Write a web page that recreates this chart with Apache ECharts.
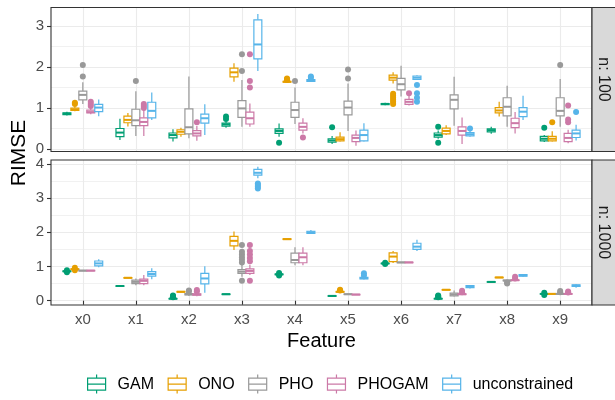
<!DOCTYPE html>
<html>
<head>
<meta charset="utf-8">
<script src="https://cdn.jsdelivr.net/npm/echarts@6/dist/echarts.min.js"></script>
<style>html,body{margin:0;padding:0;background:#fff}#c{width:615px;height:400px}</style>
</head>
<body>
<div id="c"></div>
<script>
// ---------- data ----------
const features = ['x0','x1','x2','x3','x4','x5','x6','x7','x8','x9'];
const methods = ['GAM','ONO','PHO','PHOGAM','unconstrained'];
const panelLabels = ['n: 100','n: 1000'];
const yTicks100 = [0,1,2,3];
const yTicks1000 = [0,1,2,3,4];

// box stats per feature: [lower whisker, q1, median, q3, upper whisker]
const gam100 = [[0.82,0.84,0.86,0.88,0.91],[0.22,0.30,0.40,0.50,0.74],[0.18,0.27,0.34,0.39,0.48],[0.52,0.56,0.60,0.63,0.67],[0.30,0.38,0.44,0.49,0.62],[0.12,0.17,0.21,0.25,0.32],[1.07,1.08,1.10,1.11,1.13],[0.25,0.29,0.34,0.39,0.45],[0.37,0.42,0.46,0.49,0.54],[0.17,0.20,0.25,0.31,0.34]];
const gam100Out = [[],[],[],[0.73,0.79],[0.15],[0.53],[],[0.54,0.15],[],[0.52]];
const ono100 = [[0.92,0.94,0.97,1.00,1.04],[0.55,0.64,0.71,0.80,0.88],[0.30,0.36,0.42,0.47,0.52],[1.64,1.76,1.87,1.97,2.09],[1.62,1.63,1.64,1.65,1.66],[0.18,0.20,0.24,0.29,0.41],[1.60,1.68,1.74,1.80,1.87],[0.34,0.37,0.44,0.51,0.58],[0.79,0.88,0.94,1.01,1.15],[0.18,0.20,0.25,0.31,0.43]];
const ono100Out = [[1.10,1.13],[],[],[],[1.68,1.70,1.72],[],[1.10,1.15,1.20,1.25,1.30,1.35],[],[],[0.65]];
const pho100 = [[1.10,1.20,1.32,1.41,1.63],[0.32,0.57,0.70,0.97,1.41],[0.26,0.37,0.53,0.98,1.77],[0.54,0.77,0.99,1.18,1.68],[0.61,0.77,0.95,1.14,1.50],[0.44,0.83,1.01,1.17,1.60],[1.28,1.44,1.58,1.72,2.03],[0.57,0.98,1.20,1.32,1.76],[0.54,0.81,1.03,1.25,1.54],[0.54,0.81,0.93,1.25,1.71]];
const pho100Out = [[1.77,2.05],[1.66],[],[1.90,2.31],[1.66],[1.72,1.94],[],[],[],[2.05]];
const phogam100 = [[0.85,0.88,0.90,0.95,1.00],[0.32,0.57,0.66,0.76,0.95],[0.20,0.32,0.38,0.45,0.56],[0.54,0.61,0.75,0.90,1.11],[0.38,0.46,0.54,0.63,0.75],[0.08,0.18,0.27,0.34,0.45],[1.06,1.09,1.15,1.21,1.30],[0.12,0.34,0.44,0.54,0.77],[0.38,0.52,0.63,0.75,0.90],[0.14,0.18,0.27,0.38,0.47]];
const phogam100Out = [[1.05,1.10,1.15],[1.00,1.05,1.10],[0.65],[1.50,1.66,2.31],[0.28],[],[1.36],[],[],[0.65,0.72,1.06]];
const unc100 = [[0.80,0.91,1.01,1.09,1.21],[0.71,0.76,0.93,1.14,1.38],[0.34,0.63,0.75,0.85,1.09],[1.90,2.20,2.55,3.15,3.29],[1.64,1.65,1.67,1.69,1.71],[0.18,0.20,0.34,0.46,0.63],[1.68,1.70,1.74,1.78,1.80],[0.30,0.32,0.36,0.40,0.44],[0.71,0.79,0.91,1.01,1.30],[0.21,0.28,0.38,0.46,0.59]];
const unc100Out = [[],[],[],[],[1.74,1.77],[],[1.56,1.36,1.25,1.15],[0.50],[],[0.90]];

const gam1000 = [[0.84,0.85,0.86,0.87,0.88],[0.42,0.425,0.43,0.435,0.44],[0.05,0.055,0.06,0.065,0.07],[0.18,0.185,0.19,0.195,0.20],[0.75,0.76,0.77,0.78,0.79],[0.13,0.135,0.14,0.145,0.15],[1.08,1.085,1.09,1.095,1.10],[0.05,0.055,0.06,0.065,0.07],[0.54,0.545,0.55,0.555,0.56],[0.19,0.195,0.20,0.205,0.21]];
const gam1000Out = [[0.83,0.89],[],[0.10,0.13,0.15],[],[0.74,0.81],[],[1.07,1.11],[0.10,0.13,0.15],[],[0.17,0.23]];
const ono1000 = [[0.90,0.91,0.92,0.93,0.94],[0.66,0.665,0.67,0.675,0.68],[0.24,0.25,0.26,0.27,0.28],[1.48,1.60,1.75,1.88,2.02],[1.78,1.79,1.80,1.81,1.82],[0.24,0.25,0.26,0.27,0.28],[1.10,1.14,1.29,1.40,1.45],[0.31,0.315,0.32,0.325,0.33],[0.67,0.675,0.68,0.685,0.69],[0.19,0.195,0.20,0.205,0.21]];
const ono1000Out = [[0.89,0.96],[],[],[],[],[0.30,0.32],[],[],[],[]];
const pho1000 = [[0.87,0.875,0.88,0.885,0.89],[0.45,0.50,0.55,0.60,0.65],[0.14,0.17,0.19,0.21,0.24],[0.70,0.80,0.85,0.91,1.05],[1.04,1.11,1.19,1.39,1.56],[0.18,0.185,0.19,0.195,0.20],[1.11,1.115,1.12,1.125,1.13],[0.12,0.14,0.18,0.22,0.30],[0.57,0.58,0.59,0.60,0.61],[0.19,0.195,0.20,0.205,0.21]];
const pho1000Out = [[],[],[0.27,0.30],[0.58,1.12,1.20,1.27,1.35,1.43,1.63],[],[],[],[],[0.50,0.53],[0.25,0.28]];
const phogam1000 = [[0.87,0.875,0.88,0.885,0.89],[0.45,0.50,0.58,0.63,0.75],[0.13,0.16,0.18,0.20,0.23],[0.75,0.80,0.87,0.93,1.05],[1.04,1.11,1.27,1.39,1.56],[0.17,0.175,0.18,0.185,0.19],[1.11,1.115,1.12,1.125,1.13],[0.17,0.18,0.19,0.20,0.21],[0.59,0.595,0.60,0.605,0.61],[0.19,0.195,0.20,0.205,0.21]];
const phogam1000Out = [[],[],[0.27,0.31],[0.58,1.15,1.25,1.35,1.45,1.63],[],[],[],[0.25,0.29],[0.65,0.70],[0.24,0.27]];
const unc1000 = [[0.98,1.02,1.09,1.16,1.21],[0.63,0.72,0.78,0.85,0.95],[0.23,0.49,0.65,0.80,1.01],[3.58,3.67,3.74,3.84,3.92],[1.95,1.97,2.00,2.03,2.07],[0.62,0.64,0.66,0.68,0.70],[1.45,1.50,1.58,1.68,1.78],[0.36,0.38,0.41,0.44,0.46],[0.70,0.72,0.74,0.76,0.78],[0.38,0.42,0.44,0.46,0.48]];
const unc1000Out = [[],[],[],[3.28,3.33,3.38,3.43],[],[0.74,0.80],[],[],[],[]];

// ---------- style / layout ----------
const colors = ['#009E73','#E69F00','#999999','#CC79A7','#56B4E9'];
const FONT = '"Liberation Sans", Arial, Helvetica, sans-serif';
const panelL = 51, panelR = 592;
const panels = [
  {top: 7.5, bottom: 151.5, min: -0.061, max: 3.451, ticks: yTicks100,
   stats: [gam100, ono100, pho100, phogam100, unc100],
   outs: [gam100Out, ono100Out, pho100Out, phogam100Out, unc100Out]},
  {top: 160, bottom: 305, min: -0.126, max: 4.114, ticks: yTicks1000,
   stats: [gam1000, ono1000, pho1000, phogam1000, unc1000],
   outs: [gam1000Out, ono1000Out, pho1000Out, phogam1000Out, unc1000Out]}
];
const W = 615;
const step = (panelR - panelL) / (features.length + 0.2);
const dataL = panelL + 0.6 * step;
const dataR = dataL + (features.length - 1) * step;

const grid = [], xAxis = [], yAxis = [], series = [], graphic = [];

function boxRender(mi) {
  return function (params, api) {
    const c = api.value(0);
    const s = api.coord([1, 0])[0] - api.coord([0, 0])[0];
    const bw = 0.15 * s;
    const x = api.coord([c, 0])[0] + (mi - 2) * bw;
    const hw = bw / 2;
    const y = k => api.coord([c, api.value(k)])[1];
    const ymin = y(1), yq1 = y(2), ymed = y(3), yq3 = y(4), ymax = y(5);
    const col = colors[mi];
    return {type: 'group', children: [
      {type: 'line', shape: {x1: x, y1: ymax, x2: x, y2: yq3}, style: {stroke: col, lineWidth: 1.2}},
      {type: 'line', shape: {x1: x, y1: yq1, x2: x, y2: ymin}, style: {stroke: col, lineWidth: 1.2}},
      {type: 'rect', shape: {x: x - hw, y: yq3, width: 2 * hw, height: Math.max(yq1 - yq3, 0.5)}, style: {stroke: col, lineWidth: 1.2, fill: '#fff'}},
      {type: 'line', shape: {x1: x - hw, y1: ymed, x2: x + hw, y2: ymed}, style: {stroke: col, lineWidth: 2}}
    ]};
  };
}
function pointRender(mi) {
  return function (params, api) {
    const c = api.value(0);
    const s = api.coord([1, 0])[0] - api.coord([0, 0])[0];
    const p = api.coord([c, api.value(1)]);
    return {type: 'circle', shape: {cx: p[0] + (mi - 2) * 0.15 * s, cy: p[1], r: 3}, style: {fill: colors[mi]}};
  };
}

panels.forEach((p, pi) => {
  const h = p.bottom - p.top;
  const toPx = v => p.bottom - (v - p.min) / (p.max - p.min) * h;
  const tMax = p.ticks[p.ticks.length - 1];
  const fTop = toPx(tMax), fBot = toPx(0);
  const isBottom = pi === panels.length - 1;
  // frame grid: y labels, horizontal grid lines
  grid.push({left: panelL, width: panelR - panelL, top: fTop, height: fBot - fTop, containLabel: false});
  xAxis.push({type: 'value', gridIndex: 2 * pi, show: false, min: 0, max: 1});
  yAxis.push({type: 'value', gridIndex: 2 * pi, min: 0, max: tMax, interval: 1,
    axisLine: {show: false},
    axisTick: {show: true, length: 4, lineStyle: {color: '#333', width: 1.1}},
    axisLabel: {fontSize: 15, color: '#4D4D4D', margin: 7, fontFamily: FONT},
    splitLine: {show: true, lineStyle: {color: '#EBEBEB', width: 1.1}},
    minorTick: {show: false, splitNumber: 2},
    minorSplitLine: {show: true, lineStyle: {color: '#EBEBEB', width: 0.7}}
  });
  // data grid
  grid.push({left: dataL, width: dataR - dataL, top: p.top, height: h, containLabel: false});
  xAxis.push({type: 'category', gridIndex: 2 * pi + 1, data: features, boundaryGap: false,
    axisLine: {show: false},
    axisTick: {show: isBottom, length: 4, interval: 0, lineStyle: {color: '#333', width: 1.1}},
    axisLabel: {show: isBottom, interval: 0, fontSize: 15, color: '#4D4D4D', margin: 7, fontFamily: FONT},
    splitLine: {show: true, interval: 0, lineStyle: {color: '#EBEBEB', width: 1.1}},
    name: isBottom ? 'Feature' : '', nameLocation: 'middle', nameGap: 26,
    nameTextStyle: {fontSize: 20, color: '#000', fontFamily: FONT}
  });
  yAxis.push({type: 'value', gridIndex: 2 * pi + 1, min: p.min, max: p.max, show: false});

  methods.forEach((m, mi) => {
    series.push({type: 'custom', name: m, xAxisIndex: 2 * pi + 1, yAxisIndex: 2 * pi + 1,
      renderItem: boxRender(mi), encode: {x: 0, y: [1, 2, 3, 4, 5]},
      itemStyle: {color: colors[mi]},
      data: p.stats[mi].map((s, i) => [i].concat(s)), clip: false, z: 3});
    const pts = [];
    p.outs[mi].forEach((arr, i) => arr.forEach(v => pts.push([i, v])));
    series.push({type: 'custom', name: m, xAxisIndex: 2 * pi + 1, yAxisIndex: 2 * pi + 1,
      renderItem: pointRender(mi), encode: {x: 0, y: 1},
      itemStyle: {color: colors[mi]}, data: pts, clip: false, z: 4});
  });

  // panel border
  graphic.push({type: 'rect', z: 100, silent: true,
    shape: {x: panelL, y: p.top, width: panelR - panelL, height: h},
    style: {fill: 'none', stroke: '#333', lineWidth: 1.1}});
  // strip
  graphic.push({type: 'rect', z: 100, silent: true,
    shape: {x: panelR, y: p.top, width: W - panelR + 2, height: h},
    style: {fill: '#D9D9D9', stroke: '#333', lineWidth: 1.1}});
  graphic.push({type: 'text', z: 101, silent: true, x: panelR + 11.5, y: (p.top + p.bottom) / 2,
    rotation: -Math.PI / 2,
    style: {text: panelLabels[pi], fontSize: 16, fill: '#1A1A1A', align: 'center', verticalAlign: 'middle', fontFamily: FONT}});
});

graphic.push({type: 'text', z: 101, silent: true, x: 19.5, y: 153, rotation: Math.PI / 2,
  style: {text: 'RIMSE', fontSize: 21, fill: '#000', align: 'center', verticalAlign: 'middle', fontFamily: FONT}});

const boxIcon = 'path://M10,0L10,3.5M1,3.5L19,3.5L19,15.5L1,15.5ZM1,9.5L19,9.5M10,15.5L10,19';

const chart = echarts.init(document.getElementById('c'), null, {renderer: 'canvas'});
chart.setOption({
  animation: false,
  backgroundColor: '#fff',
  textStyle: {fontFamily: FONT},
  grid, xAxis, yAxis, series, graphic,
  legend: {
    data: methods.map((m, i) => ({name: m, icon: boxIcon,
      itemStyle: {color: '#fff', borderColor: colors[i], borderWidth: 1.2}})),
    left: 82, top: 369, itemWidth: 20, itemHeight: 19, itemGap: 13.5,
    selectedMode: false,
    textStyle: {fontSize: 16, color: '#000', fontFamily: FONT, padding: [0, 0, 0, 6]}
  }
});
</script>
</body>
</html>
